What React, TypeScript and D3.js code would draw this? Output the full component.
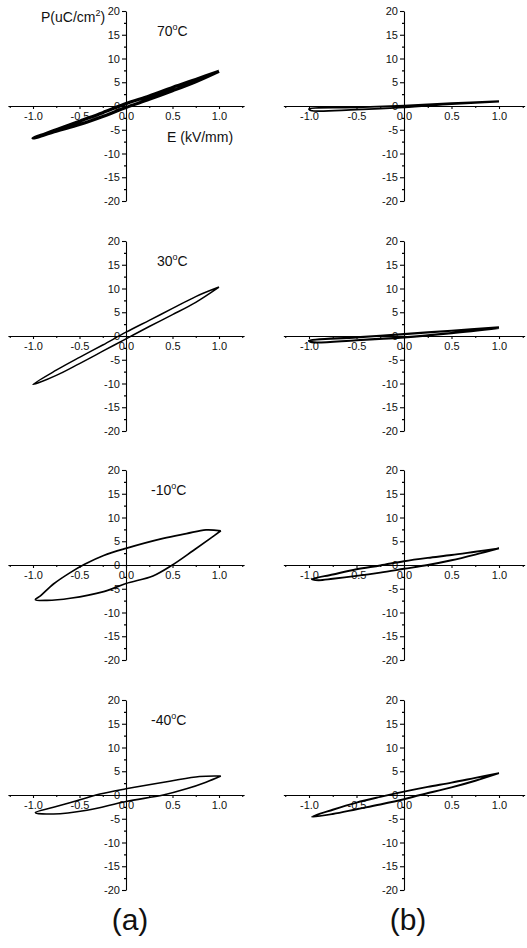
import { useEffect, useRef } from "react";
import * as d3 from "d3";

// loops: upper branch from E=1 down to E=-1, then lower branch back to E=1
const loopA70 = [
  [1.0, 7.3], [0.75, 5.6], [0.5, 3.9], [0.25, 2.1], [0.0, 0.5], [-0.25, -1.4],
  [-0.5, -3.2], [-0.75, -5.0], [-1.0, -6.8], [-0.75, -5.3], [-0.5, -3.9],
  [-0.25, -2.2], [0.0, -0.3], [0.25, 1.4], [0.5, 3.2], [0.75, 5.1], [1.0, 7.3],
];
const loopA30 = [
  [1.0, 10.3], [0.75, 8.3], [0.5, 5.8], [0.25, 3.3], [0.0, 0.8], [-0.25, -1.9],
  [-0.5, -4.5], [-0.75, -7.2], [-1.0, -10.2], [-0.75, -8.3], [-0.5, -5.8],
  [-0.25, -3.2], [0.0, -0.6], [0.25, 2.0], [0.5, 4.5], [0.75, 7.1], [1.0, 10.3],
];
const loopAm10 = [
  [1.02, 7.2], [0.86, 7.4], [0.65, 6.6], [0.4, 5.6], [0.0, 3.5], [-0.24, 2.0],
  [-0.44, 0.2], [-0.6, -1.6], [-0.78, -4.0], [-0.92, -6.5], [-0.975, -7.3],
  [-0.85, -7.45], [-0.6, -7.0], [-0.24, -5.6], [0.0, -3.9], [0.29, -2.3],
  [0.49, -0.1], [0.72, 3.0], [0.9, 5.5], [1.02, 7.2],
];
const loopAm40 = [
  [1.02, 4.0], [0.79, 3.9], [0.47, 2.9], [0.0, 1.3], [-0.28, 0.2],
  [-0.53, -1.2], [-0.78, -2.6], [-0.975, -3.7], [-0.78, -4.0], [-0.42, -3.2],
  [0.0, -1.35], [0.4, 0.0], [0.65, 1.3], [0.86, 2.7], [1.02, 4.0],
];
const loopB70 = [
  [1.0, 1.0], [0.5, 0.6], [0.0, 0.1], [-0.5, -0.3], [-1.0, -0.6],
  [-0.98, -0.95], [-0.5, -0.75], [0.0, -0.3], [0.5, 0.4], [1.0, 0.95],
];
const loopB30 = [
  [1.0, 1.8], [0.5, 1.1], [0.0, 0.4], [-0.5, -0.3], [-1.0, -1.0],
  [-0.97, -1.3], [-0.5, -0.9], [0.0, -0.3], [0.5, 0.6], [1.0, 1.7],
];
const loopBm10 = [
  [1.0, 3.5], [0.75, 2.8], [0.5, 2.1], [0.25, 1.5], [0.0, 0.8], [-0.25, -0.1],
  [-0.5, -0.9], [-0.75, -2.0], [-0.97, -3.0], [-0.9, -3.2], [-0.75, -2.9],
  [-0.5, -2.3], [-0.25, -1.6], [0.0, -0.8], [0.25, 0.0], [0.5, 1.0],
  [0.75, 2.2], [1.0, 3.5],
];
const loopBm40 = [
  [1.0, 4.6], [0.75, 3.6], [0.5, 2.6], [0.25, 1.7], [0.0, 0.7], [-0.25, -0.4],
  [-0.5, -1.6], [-0.75, -3.1], [-0.97, -4.6], [-0.75, -4.0], [-0.5, -3.0],
  [-0.25, -2.0], [0.0, -0.9], [0.17, 0.0], [0.5, 1.6], [0.75, 3.0], [1.0, 4.6],
];

const tempLabels = ["70", "30", "-10", "-40"];
const yMajor = [-20, -15, -10, -5, 0, 5, 10, 15, 20];
const yMinor = [-17.5, -12.5, -7.5, -2.5, 2.5, 7.5, 12.5, 17.5];
const xMajor = [-1.0, -0.5, 0.0, 0.5, 1.0];
const xMinor = [-1.25, -0.75, -0.25, 0.25, 0.75, 1.25];

const panels = [
  { col: 0, row: 0, data: loopA70, width: 3.2 },
  { col: 0, row: 1, data: loopA30, width: 1.5 },
  { col: 0, row: 2, data: loopAm10, width: 1.7 },
  { col: 0, row: 3, data: loopAm40, width: 1.6 },
  { col: 1, row: 0, data: loopB70, width: 1.8 },
  { col: 1, row: 1, data: loopB30, width: 2.2 },
  { col: 1, row: 2, data: loopBm10, width: 1.9 },
  { col: 1, row: 3, data: loopBm40, width: 1.9 },
];

const W = 527;
const H = 948;
const colX = [126, 404];
const colK = [93, 95];
const rowY = [106, 336, 565, 795];
const FONT = "'Liberation Sans', Arial, sans-serif";

export default function App() {
  const ref = useRef<SVGSVGElement>(null);

  useEffect(() => {
    const svg = d3.select(ref.current);
    svg.selectAll("*").remove();
    svg.append("rect").attr("width", W).attr("height", H).attr("fill", "#fff");

    panels.forEach((p) => {
      const cx = colX[p.col];
      const cy = rowY[p.row];
      const k = colK[p.col];
      const x = d3.scaleLinear().domain([-1.27, 1.27]).range([cx - 1.27 * k, cx + 1.27 * k]);
      const y = d3.scaleLinear().domain([-20, 20]).range([cy + 95, cy - 95]);
      const g = svg.append("g").attr("font-family", FONT);

      // y axis
      const ya = g.append("g").attr("transform", `translate(${cx},0)`);
      ya.call(
        d3.axisLeft(y).tickValues(yMajor).tickSize(4).tickSizeOuter(0).tickPadding(2)
          .tickFormat((d) => String(d))
      );
      ya.append("g").call(
        d3.axisLeft(y).tickValues(yMinor).tickSize(2).tickSizeOuter(0).tickFormat(() => "")
      ).select(".domain").remove();

      // x axis
      const xa = g.append("g").attr("transform", `translate(0,${cy})`);
      xa.call(
        d3.axisBottom(x).tickValues(xMajor).tickSize(3).tickSizeOuter(0).tickPadding(3)
          .tickFormat((d) => (+d).toFixed(1))
      );
      xa.append("g").call(
        d3.axisBottom(x).tickValues(xMinor).tickSize(2).tickSizeOuter(0).tickFormat(() => "")
      ).select(".domain").remove();

      g.selectAll(".tick text").attr("font-size", 11).attr("font-family", FONT).attr("fill", "#111");
      g.selectAll(".domain, .tick line").attr("stroke", "#000").attr("stroke-width", 1.1);

      const line = d3
        .line<number[]>()
        .x((d) => x(d[0]))
        .y((d) => y(d[1]))
        .curve(d3.curveCatmullRom.alpha(0.5));
      g.append("path")
        .attr("d", line(p.data as number[][]))
        .attr("fill", "none")
        .attr("stroke", "#000")
        .attr("stroke-width", p.width)
        .attr("stroke-linejoin", "round");

      if (p.col === 0) {
        const t = g.append("text")
          .attr("x", cx + (p.row === 0 || p.row === 1 ? 31 : 25))
          .attr("y", cy - 70)
          .attr("font-size", 14)
          .attr("fill", "#111");
        t.append("tspan").text(tempLabels[p.row]);
        t.append("tspan").attr("font-size", 9).attr("dy", -6).text("o");
        t.append("tspan").attr("dy", 6).text("C");
      }
    });

    // axis titles on the first panel
    const tp = svg.append("text").attr("x", 41).attr("y", 22)
      .attr("font-family", FONT).attr("font-size", 14).attr("fill", "#111");
    tp.append("tspan").text("P(uC/cm");
    tp.append("tspan").attr("font-size", 9).attr("dy", -6).text("2");
    tp.append("tspan").attr("dy", 6).text(")");

    svg.append("text").attr("x", 167).attr("y", 142)
      .attr("font-family", FONT).attr("font-size", 14).attr("fill", "#111")
      .text("E (kV/mm)");

    ["(a)", "(b)"].forEach((s, i) => {
      svg.append("text").attr("x", colX[i] + 4).attr("y", 930)
        .attr("text-anchor", "middle")
        .attr("font-family", FONT).attr("font-size", 30).attr("fill", "#111")
        .text(s);
    });
  }, []);

  return (
    <svg
      ref={ref}
      width={W}
      height={H}
      style={{ position: "absolute", left: 0, top: 0, display: "block" }}
    />
  );
}
